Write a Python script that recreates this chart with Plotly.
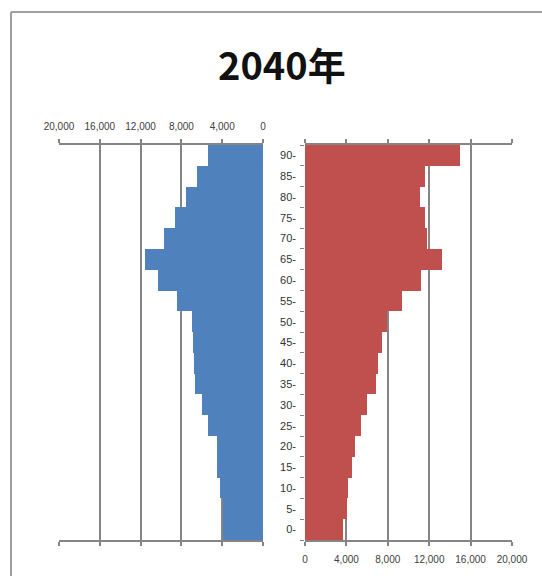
import plotly.graph_objects as go

ages = ["0-", "5-", "10-", "15-", "20-", "25-", "30-", "35-", "40-", "45-",
        "50-", "55-", "60-", "65-", "70-", "75-", "80-", "85-", "90-"]
male = [3950, 3950, 4200, 4500, 4550, 5350, 6000, 6650, 6800, 6900,
        7000, 8450, 10250, 11550, 9700, 8650, 7550, 6500, 5350]
female = [3700, 4050, 4200, 4500, 4850, 5450, 6000, 6850, 7100, 7400,
          7900, 9350, 11250, 13200, 11800, 11600, 11100, 11600, 15000]
tick_vals = [0, 4000, 8000, 12000, 16000, 20000]
tick_text = ["0", "4,000", "8,000", "12,000", "16,000", "20,000"]
title_text = "2040年"

W, H = 542, 576
def px(x):
    return x / W
def py(y):
    return 1 - y / H

grid = "#858585"
fig = go.Figure()
fig.add_trace(go.Bar(y=ages, x=male, orientation="h", xaxis="x", yaxis="y",
                     marker=dict(color="#4F81BD", line=dict(width=0)), showlegend=False))
fig.add_trace(go.Bar(y=ages, x=female, orientation="h", xaxis="x2", yaxis="y2",
                     marker=dict(color="#C0504D", line=dict(width=0)), showlegend=False))

axfont = dict(family="Liberation Sans", size=10, color="#404040")
common_x = dict(tickvals=tick_vals, ticktext=tick_text, showgrid=True, gridcolor=grid,
                gridwidth=2, showline=True, linecolor=grid, linewidth=2, ticks="outside",
                ticklen=4, tickcolor=grid, tickwidth=2, mirror="ticks", zeroline=False,
                tickfont=axfont, fixedrange=True, automargin=False)
fig.update_layout(
    template="none",
    width=W, height=H, margin=dict(l=0, r=0, t=0, b=0, pad=0, autoexpand=False),
    paper_bgcolor="white", plot_bgcolor="white", bargap=0, barmode="overlay",
    xaxis=dict(domain=[px(59), px(263)], range=[20000, 0], side="top", anchor="y",
               ticklabelstandoff=5, **common_x),
    xaxis2=dict(domain=[px(305), px(512)], range=[0, 20000], side="bottom", anchor="y2",
                ticklabelstandoff=5, **common_x),
    yaxis=dict(domain=[py(540), py(145)], type="category", categoryorder="array",
               categoryarray=ages, range=[-0.5, 18.5], showticklabels=False,
               showgrid=False, showline=False, ticks="", anchor="x", automargin=False,
               zeroline=False, fixedrange=True),
    yaxis2=dict(domain=[py(540), py(145)], type="category", categoryorder="array",
                categoryarray=ages, range=[-0.5, 18.5], showticklabels=True,
                showgrid=False, showline=False, ticks="outside", ticklen=4,
                tickcolor=grid, tickwidth=1, tickson="boundaries", side="left",
                anchor="x2", ticklabelstandoff=8, automargin=False, zeroline=False,
                fixedrange=True,
                tickfont=dict(family="Liberation Sans", size=11, color="#333333")),
    annotations=[dict(text="<b>" + title_text + "</b>", xref="paper", yref="paper",
                      x=px(282), y=py(63), xanchor="center", yanchor="middle",
                      showarrow=False,
                      font=dict(family="Noto Sans CJK JP", size=38, color="#111111"))],
    shapes=[dict(type="line", xref="paper", yref="paper", x0=px(11), x1=1.05,
                 y0=py(12), y1=py(12), line=dict(color="#a0a0a0", width=2)),
            dict(type="line", xref="paper", yref="paper", x0=px(11), x1=px(11),
                 y0=py(12), y1=-0.05, line=dict(color="#a0a0a0", width=2))],
)
fig.write_html("out.html", config={"displayModeBar": False})
